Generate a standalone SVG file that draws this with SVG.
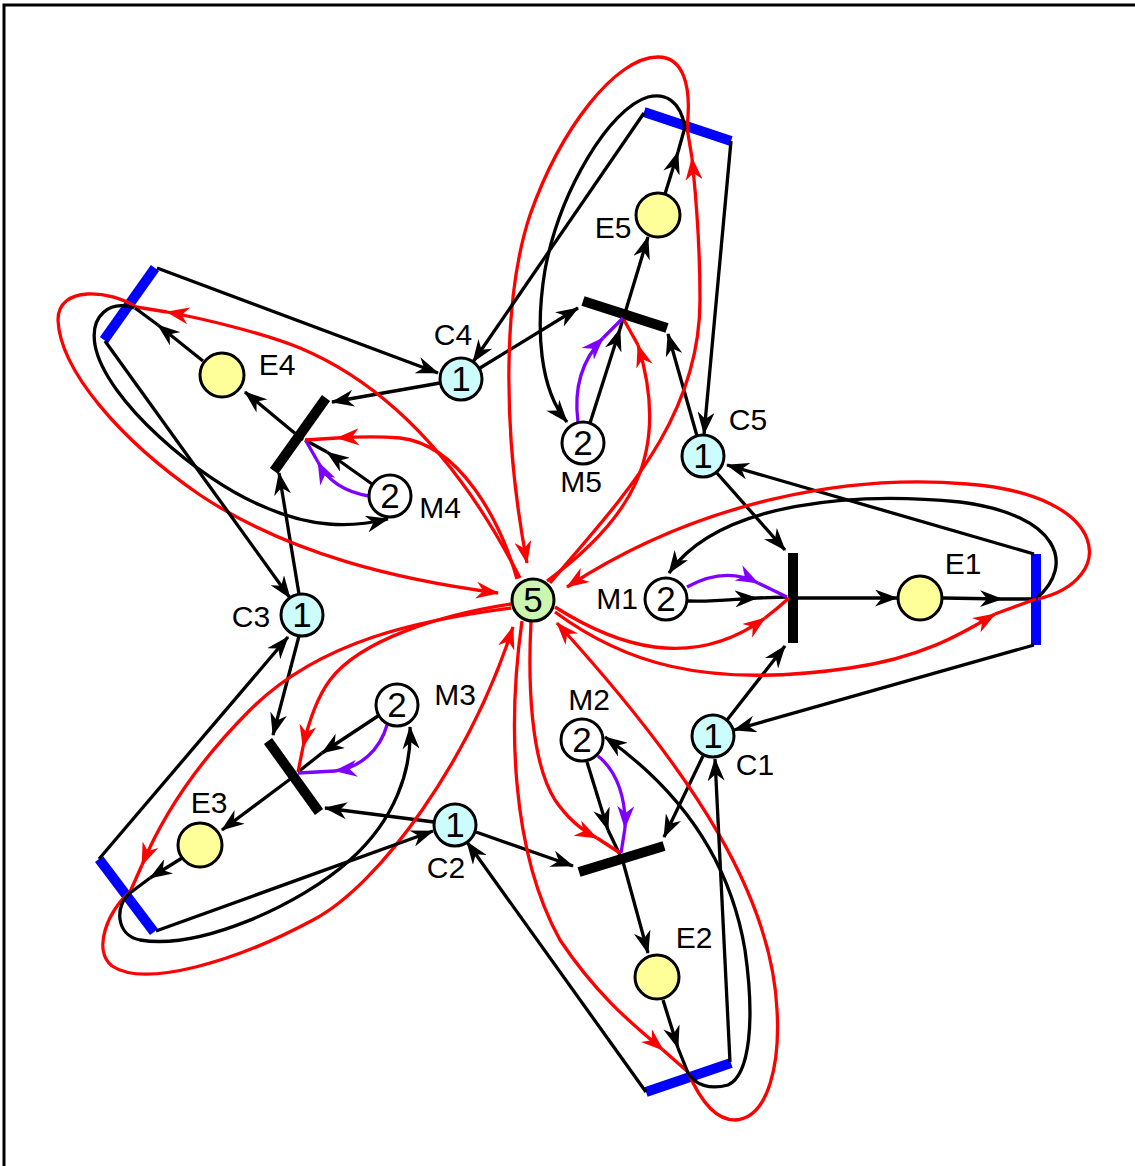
<svg xmlns="http://www.w3.org/2000/svg" width="1135" height="1166" viewBox="0 0 1135 1166">
<defs>
<marker id="ak" viewBox="0 0 23 17" refX="22" refY="8.5" markerWidth="23" markerHeight="17" markerUnits="userSpaceOnUse" orient="auto"><path d="M0,0 L23,8.5 L0,17 L7,8.5 z" fill="#000"/></marker>
<marker id="ar" viewBox="0 0 23 17" refX="22" refY="8.5" markerWidth="23" markerHeight="17" markerUnits="userSpaceOnUse" orient="auto"><path d="M0,0 L23,8.5 L0,17 L7,8.5 z" fill="#f00"/></marker>
<marker id="ap" viewBox="0 0 23 17" refX="22" refY="8.5" markerWidth="23" markerHeight="17" markerUnits="userSpaceOnUse" orient="auto"><path d="M0,0 L23,8.5 L0,17 L7,8.5 z" fill="#7f00ff"/></marker>
</defs>
<style>
.k{stroke:#000;stroke-width:3.3;fill:none}
.r{stroke:#f00;stroke-width:3.3;fill:none}
.p{stroke:#7f00ff;stroke-width:3.3;fill:none}
.k.a{marker-end:url(#ak)}
.r.a{marker-end:url(#ar)}
.p.a{marker-end:url(#ap)}
.tb{stroke:#000;stroke-width:10}
.bb{stroke:#00f;stroke-width:10}
.n{stroke:#000;stroke-width:3}
.c{fill:#ccfcfc}
.m{fill:#fff}
.e{fill:#ffff99}
.g{fill:#ccf5b0}
text{font-family:"Liberation Sans",Arial,sans-serif;fill:#000;text-anchor:middle}
.num{font-size:35px}
.lbl{font-size:30px}
</style>
<rect width="1135" height="1166" fill="#fff"/>
<path d="M4,1166 V5 H1135" fill="none" stroke="#000" stroke-width="3"/>

<g id="bars">
<g id="T1"><line class="tb" x1="793" y1="553" x2="793" y2="643"/></g>
<g id="B1"><line class="bb" x1="1036" y1="554" x2="1036" y2="645"/></g>
<g id="T5"><line class="tb" x1="583" y1="301" x2="667" y2="328"/></g>
<g id="B5"><line class="bb" x1="644" y1="112" x2="731" y2="141"/></g>
<g id="T4"><line class="tb" x1="326" y1="398" x2="274" y2="471"/></g>
<g id="B4"><line class="bb" x1="155" y1="268" x2="104" y2="340"/></g>
<g id="T3"><line class="tb" x1="268" y1="741" x2="319" y2="812"/></g>
<g id="B3"><line class="bb" x1="99" y1="859" x2="154" y2="932"/></g>
<g id="T2"><line class="tb" x1="579" y1="872" x2="664" y2="846"/></g>
<g id="B2"><line class="bb" x1="646" y1="1092" x2="731" y2="1063"/></g>
</g>

<g id="connectors">
<!-- branch 1 -->
<path class="k a" d="M716,472 L785,550"/>
<path class="k a" d="M727,720 L785,646"/>
<path class="k a" d="M688,601 C715,602 735,599 757,598"/><path class="k" d="M757,598 L787,597"/>
<path class="p a" d="M687,587 Q725,566 758,583"/><path class="p" d="M758,583 L787,597"/>
<path class="k a" d="M798,598 L897,598"/>
<path class="k a" d="M943,598 L1002,599"/><path class="k" d="M1002,599 L1036,599"/>
<path class="k a" d="M1034,554 L727,465"/>
<path class="k a" d="M1034,645 L734,730"/>
<path class="k a" d="M1037,598 C1075,565 1060,515 960,502 C860,492 720,500 669,573"/>
<path class="r a" d="M555,607 C615,645 690,672 765,618"/><path class="r" d="M765,618 Q778,608 789,598"/>
<path class="r a" d="M555,612 C620,660 700,690 850,668 C920,658 960,635 995,614"/><path class="r" d="M995,614 L1036,599"/>
<path class="r a" d="M1038,599 C1118,580 1112,495 967,484 C850,474 700,500 567,587"/>
<!-- branch 5 -->
<path class="k a" d="M480,368 L578,308"/>
<path class="k a" d="M697,436 L668,334"/>
<path class="k a" d="M590,423 L620,329"/><path class="k" d="M620,329 L623,319"/>
<path class="p a" d="M578,422 C574,392 580,362 603,338"/><path class="p" d="M603,338 L623,318"/>
<path class="r a" d="M547,581 C630,520 672,455 638,345"/><path class="r" d="M638,345 L624,320"/>
<path class="r a" d="M550,583 C620,500 700,420 700,300 C700,230 695,190 692,158"/><path class="r" d="M692,158 L687,128"/>
<path class="r a" d="M687,128 C692,85 683,57 658,57 C615,57 560,130 530,215 C505,290 500,420 527,563"/>
<path class="k a" d="M625,313 L648,237"/>
<path class="k a" d="M665,194 L678,152"/><path class="k" d="M678,152 L685,127"/>
<path class="k a" d="M731,141 L704,434"/>
<path class="k a" d="M644,113 L473,362"/>
<path class="k a" d="M685,127 C680,100 665,93 648,97 C610,108 560,190 545,270 C535,330 540,390 567,422"/>
<!-- branch 4 -->
<path class="k a" d="M440,383 L332,402"/>
<path class="k a" d="M299,594 L279,473"/>
<path class="k a" d="M372,484 L327,452"/><path class="k" d="M327,452 L305,440"/>
<path class="p a" d="M369,496 C345,492 328,482 318,462"/><path class="p" d="M318,462 L306,441"/>
<path class="r a" d="M517,579 C500,520 460,445 400,438 C375,436 355,437 337,438"/><path class="r" d="M337,438 L305,440"/>
<path class="r a" d="M520,578 C470,480 400,390 300,348 C260,332 200,318 167,312"/><path class="r" d="M167,312 L136,307"/>
<path class="r a" d="M136,307 C110,290 58,285 58,320 C60,370 120,440 200,495 C290,555 400,580 498,593"/>
<path class="k a" d="M303,440 L245,392"/>
<path class="k a" d="M203,361 L158,325"/><path class="k" d="M158,325 L135,308"/>
<path class="k a" d="M157,268 L438,373"/>
<path class="k a" d="M105,341 L290,598"/>
<path class="k a" d="M134,308 C110,300 90,315 95,345 C105,400 200,480 260,505 C310,528 350,528 388,519"/>
<!-- branch 3 -->
<path class="k a" d="M299,636 L273,735"/>
<path class="k a" d="M434,822 L325,808"/>
<path class="k a" d="M378,716 L322,753"/><path class="k" d="M322,753 L298,772"/>
<path class="p a" d="M387,725 C380,750 360,768 335,771"/><path class="p" d="M335,771 L298,773"/>
<path class="r a" d="M511,604 C440,615 360,640 330,680 C315,700 308,725 303,747"/><path class="r" d="M303,747 L298,772"/>
<path class="r a" d="M511,608 C420,620 320,640 250,710 C200,760 165,810 142,865"/><path class="r" d="M142,865 L130,892"/>
<path class="r a" d="M130,892 C108,910 92,950 112,966 C145,988 235,962 313,920 C380,885 470,760 513,627"/>
<path class="k a" d="M293,777 L222,830"/>
<path class="k a" d="M182,858 L150,878"/><path class="k" d="M150,878 L130,893"/>
<path class="k a" d="M99,859 L288,637"/>
<path class="k a" d="M156,931 L433,831"/>
<path class="k a" d="M130,893 C115,905 115,935 140,940 C200,950 300,905 350,860 C395,820 412,770 410,727"/>
<!-- branch 2 -->
<path class="k a" d="M703,756 L664,837"/>
<path class="k a" d="M476,832 L573,866"/>
<path class="k a" d="M587,762 L608,830"/><path class="k" d="M608,830 L620,855"/>
<path class="p a" d="M598,756 C618,772 626,800 625,828"/><path class="p" d="M625,828 L621,853"/>
<path class="r a" d="M531,622 C528,680 530,760 555,800 C570,822 585,832 597,838"/><path class="r" d="M597,838 L620,853"/>
<path class="r a" d="M522,621 C508,720 510,850 560,940 C600,1000 640,1030 663,1050"/><path class="r" d="M663,1050 L688,1072"/>
<path class="r a" d="M688,1072 C700,1100 715,1120 735,1120 C770,1118 780,1060 777,1010 C772,900 700,780 557,623"/>
<path class="k a" d="M622,858 L648,953"/>
<path class="k a" d="M663,1000 L678,1048"/><path class="k" d="M678,1048 L688,1073"/>
<path class="k a" d="M730,1062 L715,759"/>
<path class="k a" d="M646,1092 L467,842"/>
<path class="k a" d="M688,1073 C695,1085 710,1090 728,1085 C750,1075 755,1020 745,950 C730,860 680,790 605,737"/>
</g>

<g id="nodes">
<g id="P5"><circle class="n g" cx="533" cy="600" r="21"/><text class="num" x="533" y="612">5</text></g>
<g id="M1"><circle class="n m" cx="666" cy="599" r="21"/><text class="num" x="666" y="611">2</text><text class="lbl" x="617" y="609">M1</text></g>
<g id="M2"><circle class="n m" cx="582" cy="740" r="21"/><text class="num" x="582" y="752">2</text><text class="lbl" x="589" y="710">M2</text></g>
<g id="M3"><circle class="n m" cx="397" cy="705" r="21"/><text class="num" x="397" y="717">2</text><text class="lbl" x="455" y="705">M3</text></g>
<g id="M4"><circle class="n m" cx="390" cy="496" r="21"/><text class="num" x="390" y="508">2</text><text class="lbl" x="440" y="518">M4</text></g>
<g id="M5"><circle class="n m" cx="583" cy="443" r="21"/><text class="num" x="583" y="455">2</text><text class="lbl" x="581" y="492">M5</text></g>
<g id="C1"><circle class="n c" cx="713" cy="736" r="21"/><text class="num" x="713" y="748">1</text><text class="lbl" x="755" y="775">C1</text></g>
<g id="C2"><circle class="n c" cx="455" cy="825" r="21"/><text class="num" x="455" y="837">1</text><text class="lbl" x="446" y="878">C2</text></g>
<g id="C3"><circle class="n c" cx="302" cy="615" r="21"/><text class="num" x="302" y="627">1</text><text class="lbl" x="251" y="627">C3</text></g>
<g id="C4"><circle class="n c" cx="461" cy="379" r="21"/><text class="num" x="461" y="391">1</text><text class="lbl" x="453" y="345">C4</text></g>
<g id="C5"><circle class="n c" cx="703" cy="456" r="21"/><text class="num" x="703" y="468">1</text><text class="lbl" x="748" y="430">C5</text></g>
<g id="E1"><circle class="n e" cx="920" cy="598" r="22"/><text class="lbl" x="963" y="574">E1</text></g>
<g id="E2"><circle class="n e" cx="657" cy="977" r="22"/><text class="lbl" x="694" y="948">E2</text></g>
<g id="E3"><circle class="n e" cx="200" cy="845" r="22"/><text class="lbl" x="209" y="813">E3</text></g>
<g id="E4"><circle class="n e" cx="222" cy="375" r="22"/><text class="lbl" x="277" y="375">E4</text></g>
<g id="E5"><circle class="n e" cx="658" cy="215" r="22"/><text class="lbl" x="613" y="238">E5</text></g>
</g>
</svg>
